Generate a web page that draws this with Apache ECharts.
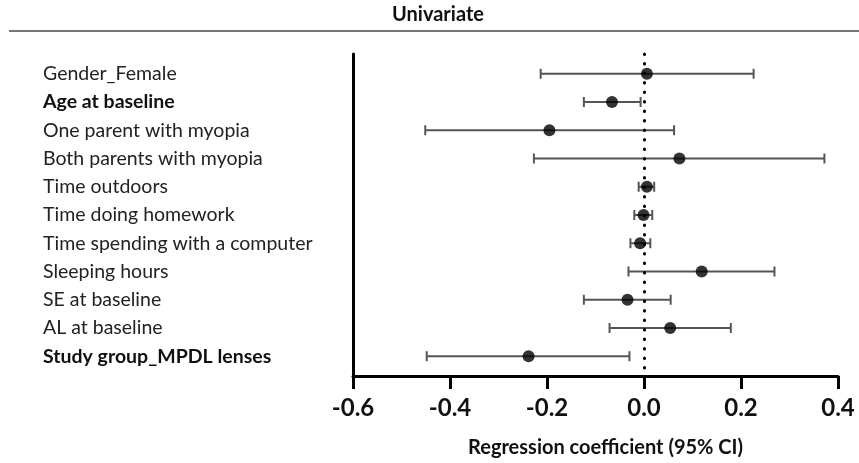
<!DOCTYPE html>
<html>
<head>
<meta charset="utf-8">
<script src="https://cdn.jsdelivr.net/npm/echarts@6/dist/echarts.min.js"></script>
<style>
html,body{margin:0;padding:0;background:#fff;}
#chart{width:859px;height:463px;}
</style>
</head>
<body>
<div id="chart"></div>
<script>
var categories = [
  'Gender_Female',
  'Age at baseline',
  'One parent with myopia',
  'Both parents with myopia',
  'Time outdoors',
  'Time doing homework',
  'Time spending with a computer',
  'Sleeping hours',
  'SE at baseline',
  'AL at baseline',
  'Study group_MPDL lenses'
];
var estimates = [0.006, -0.066, -0.195, 0.073, 0.006, -0.001, -0.008, 0.119, -0.034, 0.054, -0.238];
var lowerCI   = [-0.213, -0.124, -0.451, -0.227, -0.011, -0.020, -0.028, -0.032, -0.124, -0.071, -0.448];
var upperCI   = [0.226, -0.007, 0.062, 0.372, 0.021, 0.017, 0.013, 0.269, 0.055, 0.179, -0.030];
var boldRows  = ['Age at baseline', 'Study group_MPDL lenses'];
var titleText = 'Univariate';
var xAxisTitle = 'Regression coefficient (95% CI)';

var rowIndex = categories.map(function (c, i) { return i + 1; });
var pointData = categories.map(function (c, i) { return [estimates[i], i + 1]; });
var ciData = categories.map(function (c, i) { return [lowerCI[i], upperCI[i], i + 1]; });

var chart = echarts.init(document.getElementById('chart'), null, {renderer: 'canvas'});
var FONT = 'Lato';

var option = {
  animation: false,
  backgroundColor: '#fff',
  grid: {left: 353, right: 21, top: 54, bottom: 86, containLabel: false},
  graphic: [
    {type: 'text', left: 392, top: 5, style: {text: titleText, font: 'bold 20px ' + FONT, fill: '#111'}},
    {type: 'line', shape: {x1: 9, y1: 31, x2: 859, y2: 31}, style: {stroke: '#777', lineWidth: 2}}
  ],
  xAxis: {
    type: 'value', min: -0.6, max: 0.4, interval: 0.2,
    axisLine: {show: true, onZero: false, lineStyle: {color: '#000', width: 3}},
    axisTick: {show: true, inside: false, length: 13, lineStyle: {color: '#000', width: 3}},
    splitLine: {show: false},
    axisLabel: {
      margin: 20, color: '#111', fontFamily: FONT, fontWeight: 'bold', fontSize: 24,
      formatter: function (v) { return v.toFixed(1); }
    },
    name: xAxisTitle, nameLocation: 'middle', nameGap: 62,
    nameTextStyle: {fontFamily: FONT, fontWeight: 'bold', fontSize: 20, color: '#111', padding: [0, 0, 0, 20]}
  },
  yAxis: {
    type: 'value', inverse: true, min: 0.3, max: 11.7,
    axisLine: {show: true, onZero: false, lineStyle: {color: '#000', width: 3}},
    axisTick: {show: false},
    splitLine: {show: false},
    axisLabel: {
      customValues: rowIndex,
      align: 'left', margin: 310,
      formatter: function (v) {
        var name = categories[Math.round(v) - 1] || '';
        return boldRows.indexOf(name) >= 0 ? '{b|' + name + '}' : '{n|' + name + '}';
      },
      rich: {
        n: {fontFamily: FONT, fontSize: 19.5, color: '#222'},
        b: {fontFamily: FONT, fontSize: 19.5, fontWeight: 'bold', color: '#111'}
      }
    }
  },
  series: [
    {
      type: 'custom',
      data: ciData,
      z: 2,
      renderItem: function (params, api) {
        var lo = api.coord([api.value(0), api.value(2)]);
        var hi = api.coord([api.value(1), api.value(2)]);
        var h = 5;
        var st = {stroke: '#555', lineWidth: 2};
        return {
          type: 'group',
          children: [
            {type: 'line', shape: {x1: lo[0], y1: lo[1], x2: hi[0], y2: hi[1]}, style: st},
            {type: 'line', shape: {x1: lo[0], y1: lo[1] - h, x2: lo[0], y2: lo[1] + h}, style: st},
            {type: 'line', shape: {x1: hi[0], y1: hi[1] - h, x2: hi[0], y2: hi[1] + h}, style: st}
          ]
        };
      },
      markLine: {
        silent: true, symbol: 'none', label: {show: false},
        lineStyle: {color: '#000', width: 3, type: [0.5, 9], cap: 'round'},
        data: [{xAxis: 0}]
      }
    },
    {
      type: 'scatter',
      data: pointData,
      symbol: 'circle',
      symbolSize: 12,
      z: 5,
      itemStyle: {color: '#000'}
    }
  ]
};
chart.setOption(option);
</script>
</body>
</html>
